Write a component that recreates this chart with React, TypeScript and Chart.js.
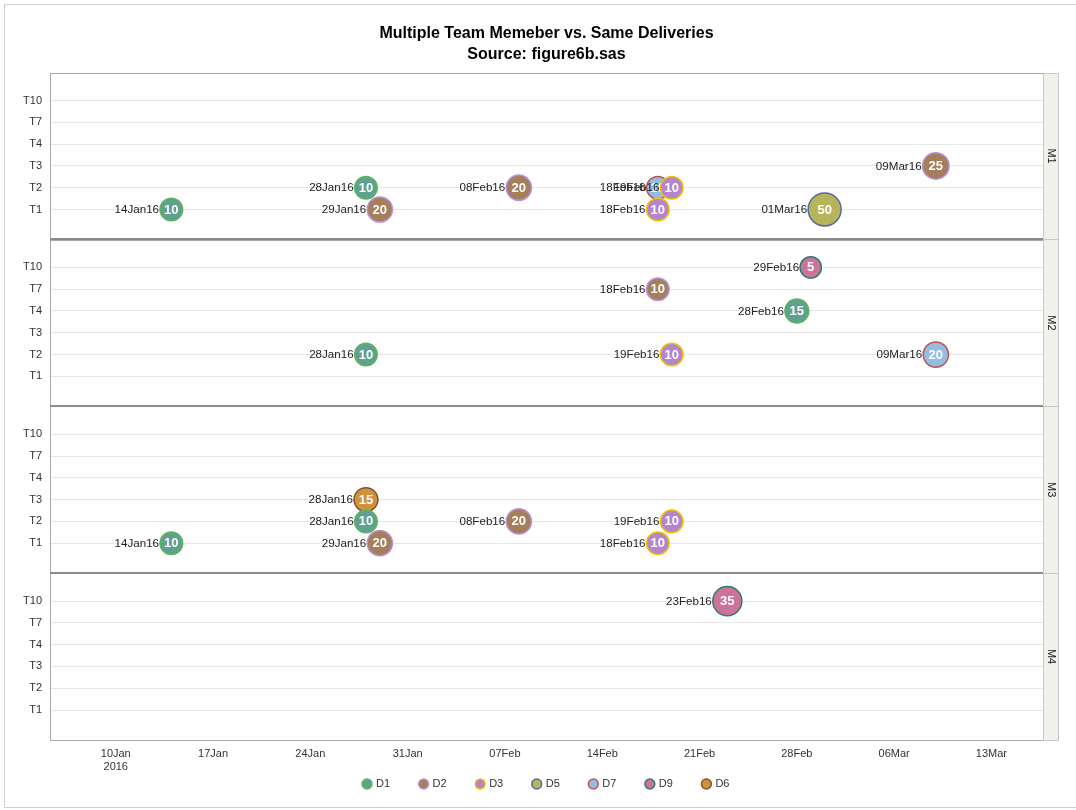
import React, { useEffect, useRef } from 'react';
import { Chart, registerables } from 'chart.js';
Chart.register(...registerables);

const teamLabels = ['T1', 'T2', 'T3', 'T4', 'T7', 'T10'];
const panelNames = ['M1', 'M2', 'M3', 'M4'];
const groupNames = ['D1', 'D2', 'D3', 'D5', 'D7', 'D9', 'D6'];
const groupFill = ['#5fa090', '#a57e5c', '#b584cf', '#b6b55a', '#94bde6', '#cd7399', '#d1913d'];
const groupBorder = ['#5cb55c', '#b990dc', '#f0c000', '#5b6aa3', '#c4524e', '#2c7c78', '#7d5424'];

const xTickDates = ['2016-01-10', '2016-01-17', '2016-01-24', '2016-01-31', '2016-02-07', '2016-02-14', '2016-02-21', '2016-02-28', '2016-03-06', '2016-03-13'];
const xTickLabels = ['10Jan', '17Jan', '24Jan', '31Jan', '07Feb', '14Feb', '21Feb', '28Feb', '06Mar', '13Mar'];

const deliveryPanel = ['M1', 'M1', 'M1', 'M1', 'M1', 'M1', 'M1', 'M1', 'M1', 'M2', 'M2', 'M2', 'M2', 'M2', 'M2', 'M3', 'M3', 'M3', 'M3', 'M3', 'M3', 'M3', 'M4'];
const deliveryGroup = ['D1', 'D1', 'D2', 'D2', 'D2', 'D3', 'D3', 'D5', 'D7', 'D1', 'D1', 'D2', 'D3', 'D7', 'D9', 'D1', 'D1', 'D2', 'D2', 'D3', 'D3', 'D6', 'D9'];
const deliveryDate = ['2016-01-14', '2016-01-28', '2016-01-29', '2016-02-08', '2016-03-09', '2016-02-18', '2016-02-19', '2016-03-01', '2016-02-18', '2016-01-28', '2016-02-28', '2016-02-18', '2016-02-19', '2016-03-09', '2016-02-29', '2016-01-14', '2016-01-28', '2016-01-29', '2016-02-08', '2016-02-18', '2016-02-19', '2016-01-28', '2016-02-23'];
const deliveryTeam = ['T1', 'T2', 'T1', 'T2', 'T3', 'T1', 'T2', 'T1', 'T2', 'T2', 'T4', 'T7', 'T2', 'T2', 'T10', 'T1', 'T2', 'T1', 'T2', 'T1', 'T2', 'T3', 'T10'];
const deliveryCount = [10, 10, 20, 20, 25, 10, 10, 50, 10, 10, 15, 10, 10, 20, 5, 10, 10, 20, 20, 10, 10, 15, 35];

const MONTHS = ['Jan', 'Feb', 'Mar', 'Apr', 'May', 'Jun', 'Jul', 'Aug', 'Sep', 'Oct', 'Nov', 'Dec'];
const FONT = "'Liberation Sans', Arial, sans-serif";
const LEGEND_PAD = 30;

function dayOf(s: string) {
  const [y, m, d] = s.split('-').map(Number);
  return (Date.UTC(y, m - 1, d) - Date.UTC(2016, 0, 1)) / 86400000;
}
function fmtDate(s: string) {
  const [y, m, d] = s.split('-').map(Number);
  return String(d).padStart(2, '0') + MONTHS[m - 1] + String(y).slice(2);
}
function sizeFor(v: number) {
  return 10 + 0.13 * v;
}

const panelPlugin = {
  id: 'panels',
  afterLayout(chart: any) {
    const lg = chart.legend;
    if (lg) {
      const top = chart.chartArea.bottom + 44 - LEGEND_PAD - 5.5;
      lg.top = top;
      lg.height = 60;
      lg.bottom = top + 60;
    }
  },
  beforeDatasetsDraw(chart: any) {
    const ctx = chart.ctx;
    const ca = chart.chartArea;
    ctx.save();
    panelNames.forEach((p) => {
      const s = chart.scales['y' + p];
      ctx.strokeStyle = '#a8a8a8';
      ctx.lineWidth = 1;
      ctx.strokeRect(Math.round(ca.left) + 0.5, Math.round(s.top) + 0.5, Math.round(ca.width), Math.round(s.height));
      const sx = Math.round(ca.right) + 0.5;
      ctx.fillStyle = '#f1f1eb';
      ctx.fillRect(sx, Math.round(s.top) + 0.5, 15, Math.round(s.height));
      ctx.strokeStyle = '#c8c8c8';
      ctx.strokeRect(sx, Math.round(s.top) + 0.5, 15, Math.round(s.height));
      ctx.save();
      ctx.translate(sx + 7.5, (s.top + s.bottom) / 2);
      ctx.rotate(Math.PI / 2);
      ctx.fillStyle = '#222';
      ctx.font = '11px ' + FONT;
      ctx.textAlign = 'center';
      ctx.textBaseline = 'middle';
      ctx.fillText(p, 0, 0);
      ctx.restore();
    });
    ctx.strokeStyle = '#8c8c8c';
    ctx.lineWidth = 2;
    panelNames.forEach((p, i) => {
      if (i === 0) return;
      const s = chart.scales['y' + p];
      ctx.beginPath();
      ctx.moveTo(ca.left, Math.round(s.top));
      ctx.lineTo(ca.right, Math.round(s.top));
      ctx.stroke();
    });
    ctx.strokeStyle = '#d0d0d0';
    ctx.lineWidth = 1;
    ctx.strokeRect(4.5, 4.5, chart.width + 4, chart.height - 7);
    ctx.restore();
  },
  afterDatasetDraw(chart: any, args: any) {
    const meta = args.meta;
    const ds = chart.data.datasets[meta.index];
    const ctx = chart.ctx;
    ctx.save();
    meta.data.forEach((el: any, j: number) => {
      const raw = ds.data[j];
      const r = el.options.radius;
      ctx.fillStyle = '#222';
      ctx.font = '11.6px ' + FONT;
      ctx.textAlign = 'right';
      ctx.textBaseline = 'middle';
      ctx.fillText(raw.label, el.x - r - 1, el.y + 0.5);
      ctx.fillStyle = '#ffffff';
      ctx.font = 'bold 13px ' + FONT;
      ctx.textAlign = 'center';
      ctx.fillText(String(raw.v), el.x, el.y + 0.5);
    });
    ctx.restore();
  },
};

export default function App() {
  const ref = useRef<HTMLCanvasElement>(null);
  useEffect(() => {
    Chart.defaults.font.family = FONT;
    const datasets: any[] = [];
    groupNames.forEach((g, gi) => {
      panelNames.forEach((p) => {
        const idx = deliveryGroup.map((x, i) => i).filter((i) => deliveryGroup[i] === g && deliveryPanel[i] === p);
        if (!idx.length) return;
        datasets.push({
          label: g,
          yAxisID: 'y' + p,
          order: g === 'D7' && p === 'M1' ? 1 : 0,
          data: idx.map((i) => ({
            x: dayOf(deliveryDate[i]),
            y: teamLabels.indexOf(deliveryTeam[i]),
            r: sizeFor(deliveryCount[i]),
            v: deliveryCount[i],
            label: fmtDate(deliveryDate[i]),
          })),
          backgroundColor: groupFill[gi],
          borderColor: groupBorder[gi],
          borderWidth: 1.5,
          hoverRadius: 0,
        });
      });
    });
    const yScales: any = {};
    // left-side stacked boxes are laid out in reverse definition order
    [...panelNames].reverse().forEach((p) => {
      yScales['y' + p] = {
        type: 'linear',
        position: 'left',
        stack: 'panels',
        stackWeight: 1,
        min: -1.376,
        max: 6.284,
        afterBuildTicks: (s: any) => {
          s.ticks = teamLabels.map((_, i) => ({ value: i }));
        },
        afterFit: (s: any) => {
          s.width = 50;
        },
        ticks: {
          callback: (v: any) => teamLabels[v],
          font: { size: 11 },
          color: '#333',
          padding: 8,
        },
        grid: { color: '#e6e6e6', drawTicks: false },
        border: { display: false },
      };
    });
    const chart = new Chart(ref.current!, {
      type: 'bubble',
      data: { datasets },
      plugins: [panelPlugin],
      options: {
        responsive: false,
        animation: false,
        layout: { padding: { left: 0, right: 33, top: 0, bottom: 2 } },
        scales: {
          x: {
            type: 'linear',
            min: 4.27,
            max: 75.71,
            afterBuildTicks: (s: any) => {
              s.ticks = xTickDates.map((d) => ({ value: dayOf(d) }));
            },
            afterFit: (s: any) => {
              s.height = 38;
            },
            ticks: {
              autoSkip: false,
              maxRotation: 0,
              callback: (v: any, i: number) => (i === 0 ? [xTickLabels[0], '2016'] : xTickLabels[i]),
              font: { size: 11 },
              color: '#333',
              padding: 7,
            },
            grid: { display: false, drawTicks: false },
            border: { display: false },
          },
          ...yScales,
        },
        plugins: {
          title: {
            display: true,
            fullSize: false,
            text: ['Multiple Team Memeber vs. Same Deliveries', 'Source: figure6b.sas'],
            font: { size: 16, weight: 'bold', lineHeight: 1.3 },
            color: '#000',
            padding: { top: 23, bottom: 8 },
          },
          legend: {
            position: 'bottom',
            fullSize: false,
            maxHeight: 30,
            labels: {
              usePointStyle: true,
              pointStyle: 'circle',
              boxWidth: 7,
              boxHeight: 7,
              padding: LEGEND_PAD,
              font: { size: 11 },
              color: '#333',
              sort: (a: any, b: any) => a.datasetIndex - b.datasetIndex,
              filter: (item: any, data: any) =>
                data.datasets.findIndex((d: any) => d.label === item.text) === item.datasetIndex,
            },
          },
          tooltip: { enabled: false },
        },
      } as any,
    });
    return () => chart.destroy();
  }, []);
  return (
    <div style={{ position: 'absolute', left: 0, top: 0, width: 1076, height: 810, background: '#fff' }}>
      <canvas ref={ref} width={1076} height={810} />
    </div>
  );
}
